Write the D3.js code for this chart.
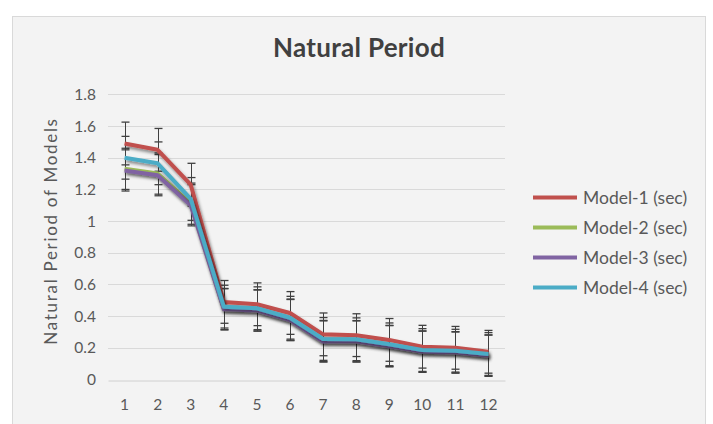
<!DOCTYPE html>
<html><head><meta charset="utf-8">
<script src="https://cdn.jsdelivr.net/npm/d3@7"></script>
<style>
html,body{margin:0;padding:0;background:#fff;}
svg{display:block;}
text{font-family:Lato,"Open Sans",sans-serif;}
</style></head>
<body>
<svg id="chart" width="713" height="424"></svg>
<script>
const categories = [1,2,3,4,5,6,7,8,9,10,11,12];
const model1 = [1.49,1.45,1.23,0.49,0.475,0.42,0.285,0.28,0.25,0.207,0.20,0.175];
const model2 = [1.33,1.30,1.11,0.445,0.437,0.378,0.243,0.242,0.212,0.177,0.172,0.152];
const model3 = [1.32,1.29,1.10,0.443,0.435,0.375,0.24,0.24,0.21,0.175,0.17,0.15];
const model4 = [1.40,1.365,1.14,0.46,0.45,0.39,0.256,0.254,0.222,0.186,0.182,0.161];
const errors = [0.135,0.13,0.13,0.135];
const seriesNames = ["Model-1 (sec)","Model-2 (sec)","Model-3 (sec)","Model-4 (sec)"];
const seriesColors = ["#C0504D","#9BBB59","#8064A2","#4BACC6"];
const yTicks = [0,0.2,0.4,0.6,0.8,1,1.2,1.4,1.6,1.8];

const seriesValues = [model1, model2, model3, model4];
const svg = d3.select("#chart");

// panel
svg.append("rect").attr("x",12.5).attr("y",16.5).attr("width",693).attr("height",420)
  .attr("fill","#f3f3f3").attr("stroke","#d9d9d9");

const defs = svg.append("defs");
const f = defs.append("filter").attr("id","shadow").attr("x","-10%").attr("y","-10%").attr("width","130%").attr("height","140%");
f.append("feDropShadow").attr("dx",1.5).attr("dy",2.5).attr("stdDeviation",1.6)
  .attr("flood-color","#000").attr("flood-opacity",0.45);

const x = d3.scaleBand().domain(categories).range([108,505]);
const y = d3.scaleLinear().domain([0,1.8]).range([379.5,94.4]);

// gridlines
svg.append("g").selectAll("line").data(yTicks.filter(d=>d>0)).join("line")
  .attr("x1",108).attr("x2",505)
  .attr("y1",d=>Math.round(y(d))+0.5).attr("y2",d=>Math.round(y(d))+0.5)
  .attr("stroke","#d9d9d9").attr("stroke-width",1);

// x axis
const xAxis = svg.append("g").attr("transform",`translate(0,${Math.round(y(0))+0.5})`)
  .call(d3.axisBottom(x).tickSize(0).tickPadding(18));
xAxis.select(".domain").attr("stroke","#d0d0d0");
xAxis.selectAll("text").attr("fill","#595959").attr("font-size",15.5);

// y axis
const yAxis = svg.append("g").attr("transform","translate(96,0)")
  .call(d3.axisLeft(y).tickValues(yTicks).tickSize(0).tickPadding(0).tickFormat(d3.format("~g")));
yAxis.select(".domain").remove();
yAxis.selectAll("text").attr("fill","#595959").attr("font-size",15.5);

// y title
svg.append("text").attr("transform",`translate(57,231) rotate(-90)`)
  .attr("text-anchor","middle").attr("fill","#595959").attr("font-size",17)
  .attr("letter-spacing",1.7)
  .text("Natural Period of Models");

// title
svg.append("text").attr("x",359).attr("y",57).attr("text-anchor","middle")
  .attr("fill","#404040").attr("font-size",26).attr("font-weight","bold")
  .attr("letter-spacing",0.3)
  .text("Natural Period");

const cx = d => x(d) + x.bandwidth()/2;

// error bars
const eg = svg.append("g").attr("stroke","#404040").attr("stroke-width",1);
seriesValues.forEach((vals,si)=>{
  const e = errors[si];
  vals.forEach((v,i)=>{
    const px = Math.round(cx(categories[i]))+0.5;
    eg.append("line").attr("x1",px).attr("x2",px).attr("y1",y(v+e)).attr("y2",y(v-e));
    [v+e, v-e].forEach(t=>{
      eg.append("line").attr("x1",px-4).attr("x2",px+4).attr("y1",y(t)).attr("y2",y(t)).attr("stroke-width",1.3);
    });
  });
});

// lines
const line = d3.line().x((d,i)=>cx(categories[i])).y(d=>y(d));
seriesValues.forEach((vals,si)=>{
  svg.append("path").datum(vals).attr("d",line).attr("fill","none")
    .attr("stroke",seriesColors[si]).attr("stroke-width",4)
    .attr("stroke-linejoin","round").attr("stroke-linecap","butt")
    .attr("filter","url(#shadow)");
});

// legend
const lg = svg.append("g");
seriesNames.forEach((n,i)=>{
  const ly = 197.5 + i*30;
  lg.append("line").attr("x1",533).attr("x2",577).attr("y1",ly).attr("y2",ly)
    .attr("stroke",seriesColors[i]).attr("stroke-width",4);
  lg.append("text").attr("x",583).attr("y",ly).attr("dy","0.36em")
    .attr("fill","#595959").attr("font-size",17.5).text(n);
});
</script>
</body></html>
